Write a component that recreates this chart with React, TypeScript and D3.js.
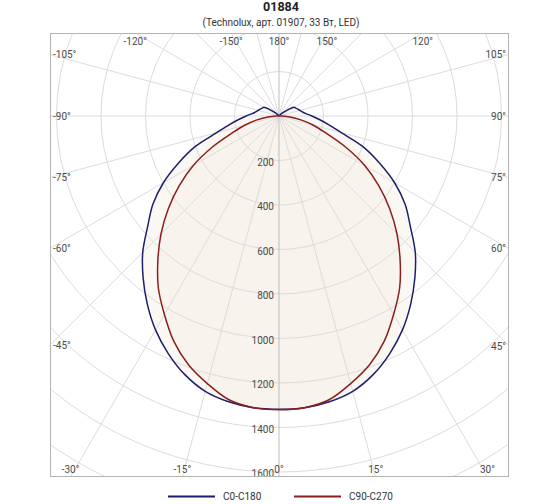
import * as d3 from "d3"

// polar angles from nadir (0°) to zenith (180°); the left half mirrors the right
const angles = [0, 5, 10, 15, 20, 25, 30, 35, 40, 45, 50, 55, 60, 65, 70, 75, 80, 85, 90, 95, 100, 105, 110, 115, 120, 125, 130, 135, 140, 145, 150, 155, 160, 165, 170, 175, 180]

// luminous intensity, cd
const c0c180 = [1318, 1316, 1304, 1281, 1237, 1178, 1110, 1032, 950, 866, 770, 692, 600, 497, 400, 290, 228, 182, 148, 122, 106, 97, 90, 84, 78, 50, 25, 12, 6, 3, 2, 1, 0, 0, 0, 0, 0]
const c90c270 = [1320, 1316, 1295, 1245, 1190, 1118, 1030, 945, 847, 750, 650, 548, 445, 330, 225, 160, 100, 50, 12, 4, 2, 0, 0, 0, 0, 0, 0, 0, 0, 0, 0, 0, 0, 0, 0, 0, 0]

const rings = [200, 400, 600, 800, 1000, 1200, 1400, 1600, 1800, 2000]
const ringLabels = [200, 400, 600, 800, 1000, 1200, 1400, 1600]
const spokes = d3.range(-165, 181, 15)
const spokeLabels = [-150, -120, -105, -90, -75, -60, -45, -30, -15, 0, 15, 30, 45, 60, 75, 90, 105, 120, 150, 180]

const series = [
  { name: "C0-C180", values: c0c180, color: "#1c1f6b" },
  { name: "C90-C270", values: c90c270, color: "#8a1f1f" },
]

const W = 560
const H = 504
const box = { left: 50, top: 33, right: 509, bottom: 477 }
const cx = 279
const cy = 116
const font = "Roboto, 'Open Sans', sans-serif"

const r = d3.scaleLinear().domain([0, 1600]).range([0, 356])
const rad = (deg: number) => (deg * Math.PI) / 180

// 0° points down, positive angles to the right
const line = d3
  .lineRadial<{ a: number; v: number }>()
  .angle((d) => Math.PI - rad(d.a))
  .radius((d) => r(d.v))
  .curve(d3.curveCatmullRomClosed.alpha(0.5))

function fullCurve(values: number[]) {
  const pts: { a: number; v: number }[] = []
  for (let i = angles.length - 1; i > 0; i--) pts.push({ a: -angles[i], v: values[i] })
  for (let i = 0; i < angles.length - 1; i++) pts.push({ a: angles[i], v: values[i] })
  return pts
}

// where a spoke leaves the frame
function edgeHit(deg: number) {
  const dx = Math.sin(rad(deg))
  const dy = Math.cos(rad(deg))
  const hits: { t: number; side: string }[] = []
  if (dx < -1e-9) hits.push({ t: (box.left - cx) / dx, side: "left" })
  if (dx > 1e-9) hits.push({ t: (box.right - cx) / dx, side: "right" })
  if (dy < -1e-9) hits.push({ t: (box.top - cy) / dy, side: "top" })
  if (dy > 1e-9) hits.push({ t: (box.bottom - cy) / dy, side: "bottom" })
  const h = hits.sort((a, b) => a.t - b.t)[0]
  return { x: cx + dx * h.t, y: cy + dy * h.t, side: h.side, t: h.t }
}

function SpokeLabel({ deg }: { deg: number }) {
  const e = edgeHit(deg)
  const text = `${deg}°`
  const common = { fontSize: 10, fill: "#4a4a4a", fontFamily: font }
  if (e.side === "top") return <text x={e.x} y={box.top + 12} textAnchor="middle" {...common}>{text}</text>
  if (e.side === "bottom") return <text x={e.x} y={box.bottom - 4} textAnchor="middle" {...common}>{text}</text>
  if (e.side === "left") return <text x={box.left + 3} y={e.y} dy="0.35em" textAnchor="start" {...common}>{text}</text>
  return <text x={box.right - 3} y={e.y} dy="0.35em" textAnchor="end" {...common}>{text}</text>
}

export default function App() {
  return (
    <svg width={W} height={H} style={{ position: "absolute", left: 0, top: 0, background: "#fff" }}>
      <defs>
        <clipPath id="frame">
          <rect x={box.left} y={box.top} width={box.right - box.left} height={box.bottom - box.top} />
        </clipPath>
      </defs>

      <text x={281} y={11} textAnchor="middle" fontSize={12.5} fontWeight="bold" fontFamily={font} fill="#222">01884</text>
      <text x={281} y={25.5} textAnchor="middle" fontSize={10} fontFamily={font} fill="#333">(Technolux, арт. 01907, 33 Вт, LED)</text>

      <g clipPath="url(#frame)">
        {series.map((s) => (
          <path key={s.name + "f"} d={line(fullCurve(s.values)) ?? ""} transform={`translate(${cx},${cy})`} fill="#efe7d6" fillOpacity={0.28} />
        ))}

        {rings.map((v) => (
          <circle key={v} cx={cx} cy={cy} r={r(v)} fill="none" stroke="#dcdcdc" strokeWidth={1} />
        ))}
        {spokes.map((a) => {
          const e = edgeHit(a)
          const axis = a === 0 || a === 180
          return <line key={a} x1={cx} y1={cy} x2={e.x} y2={e.y} stroke={axis ? "#bdbdbd" : "#dcdcdc"} strokeWidth={1} />
        })}
      </g>

      {series.map((s) => (
        <path key={s.name} d={line(fullCurve(s.values)) ?? ""} transform={`translate(${cx},${cy})`} fill="none" stroke={s.color} strokeWidth={1.5} strokeLinejoin="round" />
      ))}

      {ringLabels.map((v) => (
        <text key={v} x={cx - 5} y={cy + r(v) + 1.5} dy="0.35em" textAnchor="end" fontSize={10} fill="#4a4a4a" fontFamily={font}>{v}</text>
      ))}
      {spokeLabels.map((a) => (
        <SpokeLabel key={a} deg={a} />
      ))}

      <rect x={box.left + 0.5} y={box.top + 0.5} width={box.right - box.left - 1} height={box.bottom - box.top - 1} fill="none" stroke="#b3b3b3" strokeWidth={1} />

      {series.map((s, i) => {
        const x0 = 168 + i * 126
        return (
          <g key={s.name + "l"}>
            <line x1={x0} x2={x0 + 47} y1={496.5} y2={496.5} stroke={s.color} strokeWidth={2} />
            <text x={x0 + 55} y={496.5} dy="0.35em" fontSize={10} fill="#333" fontFamily={font}>{s.name}</text>
          </g>
        )
      })}
    </svg>
  )
}
